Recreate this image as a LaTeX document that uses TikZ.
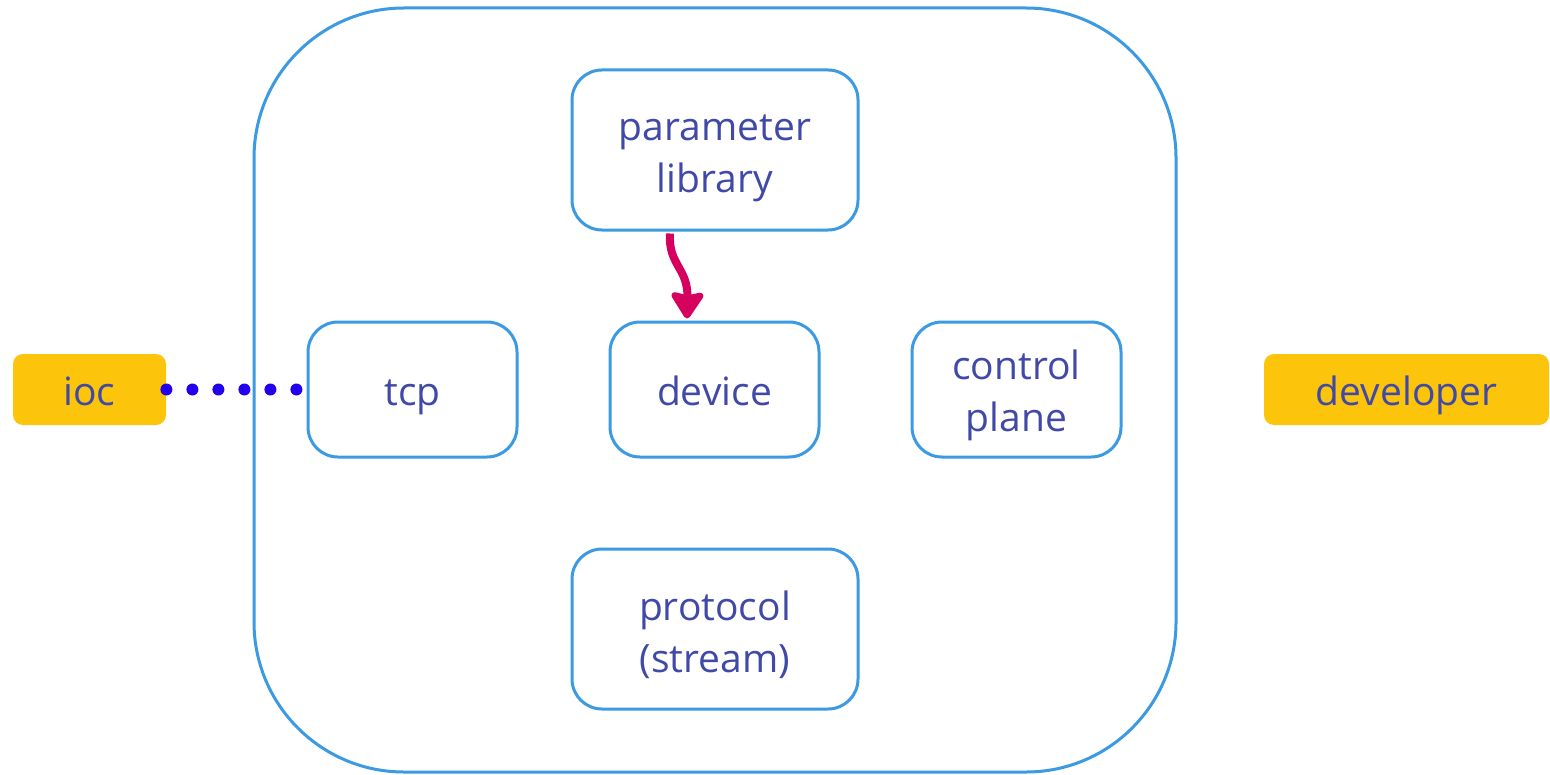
\documentclass[tikz,border=0pt]{standalone}
\usepackage{fontspec}
\setmainfont{Open Sans}
\usetikzlibrary{arrows.meta}
\definecolor{boxblue}{HTML}{3B9AE1}
\definecolor{txtblue}{HTML}{4048A8}
\definecolor{gold}{HTML}{FCC40A}
\definecolor{dotblue}{HTML}{2200EE}
\definecolor{mag}{HTML}{D6005F}
\newcommand{\lh}{\vphantom{dp}}
\tikzset{
  lbl/.style={align=center, text=txtblue, font=\fontsize{19.5pt}{26pt}\selectfont, inner sep=0pt},
  comp/.style={draw=boxblue, line width=1.5pt, rounded corners=15pt, inner sep=0pt},
  actor/.style={fill=gold, rounded corners=5pt, minimum height=35.5pt, inner sep=0pt},
  wide/.style={minimum width=143pt, minimum height=80pt},
  small/.style={minimum width=104.5pt, minimum height=67.5pt},
}
\begin{document}
\begin{tikzpicture}[x=0.5pt,y=-0.5pt]
\useasboundingbox (0,0) rectangle (1550,775);
\draw[boxblue, line width=1.5pt, rounded corners=75pt] (254,8) rectangle (1176,772);
\node[comp, wide, label={[lbl, yshift=-4pt, name=paramtxt]center:{parameter\\library}}] (param) at (715,150) {};
\node[comp, small, label={[lbl, yshift=-3pt, name=tcptxt]center:{\lh tcp}}] (tcp) at (412.5,389.5) {};
\node[comp, small, label={[lbl, yshift=-3pt, name=devicetxt]center:{\lh device}}] (device) at (714.5,389.5) {};
\node[comp, small, label={[lbl, yshift=-3pt, name=ctrltxt]center:{control\\plane}}] (ctrl) at (1016.5,389.5) {};
\node[comp, wide, label={[lbl, yshift=-3pt, name=prototxt]center:{protocol\\(stream)}}] (proto) at (715,629) {};
\node[actor, minimum width=76.5pt, label={[lbl, yshift=-3pt, name=ioctxt]center:{\lh ioc}}] (ioc) at (89.5,389.5) {};
\node[actor, minimum width=142.5pt, label={[lbl, yshift=-3pt, name=devtxt]center:{\lh developer}}] (dev) at (1406.5,389.5) {};
\draw[dotblue, line width=6pt, line cap=round, dash pattern=on 0pt off 13pt, shorten >=4pt]
  (ioc.east) -- (tcp.west);
\coordinate (astart) at ([xshift=-22.5pt, yshift=-1pt]param.south);
\coordinate (aend) at ([xshift=-13.75pt, yshift=1pt]device.north);
\draw[mag, line width=4pt, -{Stealth[width=19pt, length=15pt, inset=2pt, round]}]
  (astart) .. controls (668,265) and (688,268) .. (aend);
\end{tikzpicture}
\end{document}
